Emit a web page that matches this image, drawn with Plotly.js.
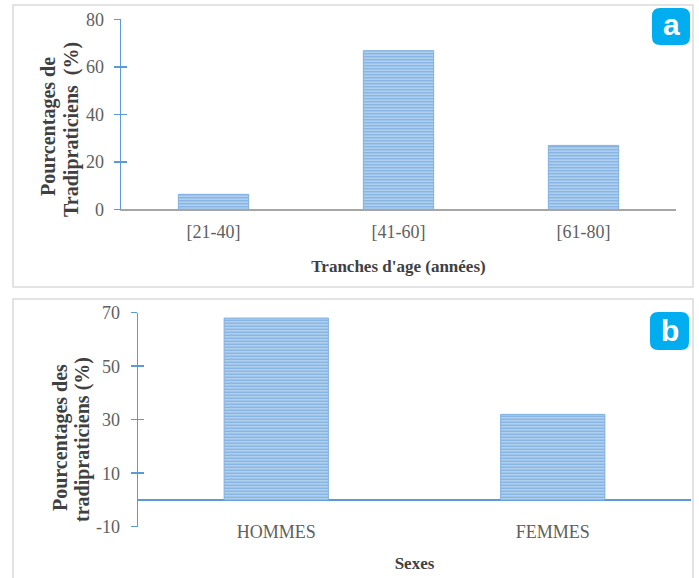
<!DOCTYPE html>
<html>
<head>
<meta charset="utf-8">
<script src="https://cdn.plot.ly/plotly-3.0.1.min.js"></script>
<style>html,body{margin:0;padding:0;background:#fff}#chart{width:699px;height:578px}</style>
</head>
<body>
<div id="chart"></div>
<script>
// Panel a data
const ageGroups = ['[21-40]', '[41-60]', '[61-80]'];
const agePercent = [6.3, 66.8, 26.9];
// Panel b data
const sexes = ['HOMMES', 'FEMMES'];
const sexPercent = [68, 32];
// Tick labels
const ageTicks = [0, 20, 40, 60, 80];
const sexTicks = [-10, 10, 30, 50, 70];
const sexTickText = ['-10', '10', '30', '50', '70'];

const W = 699, H = 578;
const px = v => v / W;
const py = v => 1 - v / H;

const serif = 'Liberation Serif, Times New Roman, serif';
const barMarker = {
  color: '#A7C8EA',
  line: {color: '#7FB0E2', width: 1},
  pattern: {shape: '-', fgcolor: '#79AADF', bgcolor: '#AECFEE', size: 3, solidity: 0.35}
};

const traces = [
  {type: 'bar', x: ageGroups, y: agePercent, xaxis: 'x', yaxis: 'y', width: 0.38, marker: barMarker},
  {type: 'bar', x: sexes, y: sexPercent, xaxis: 'x2', yaxis: 'y2', width: 0.377, marker: barMarker},
  {type: 'scatter', mode: 'none', x: ageGroups, y: agePercent, xaxis: 'x', yaxis: 'y3', showlegend: false},
  {type: 'scatter', mode: 'none', x: sexes, y: sexPercent, xaxis: 'x2', yaxis: 'y4', showlegend: false}
];

function roundRect(x0, y0, x1, y1, r) {
  const X = v => px(v).toFixed(5), Y = v => py(v).toFixed(5);
  return `M ${X(x0 + r)} ${Y(y0)} L ${X(x1 - r)} ${Y(y0)} Q ${X(x1)} ${Y(y0)} ${X(x1)} ${Y(y0 + r)} ` +
         `L ${X(x1)} ${Y(y1 - r)} Q ${X(x1)} ${Y(y1)} ${X(x1 - r)} ${Y(y1)} L ${X(x0 + r)} ${Y(y1)} ` +
         `Q ${X(x0)} ${Y(y1)} ${X(x0)} ${Y(y1 - r)} L ${X(x0)} ${Y(y0 + r)} Q ${X(x0)} ${Y(y0)} ${X(x0 + r)} ${Y(y0)} Z`;
}

const tickFont = {family: serif, size: 18, color: '#606060'};
const titleFont = {family: serif, size: 17, color: '#404040', weight: 'bold'};
const yTitleFont = {family: serif, size: 20, color: '#404040', weight: 'bold'};
const blue = '#5B9BD5';

function vTitle(text, xPix, yPix) {
  return {text: text, xref: 'paper', yref: 'paper', x: px(xPix), y: py(yPix),
          xanchor: 'center', yanchor: 'middle', textangle: -90, showarrow: false, font: yTitleFont};
}

const layout = {
  width: W, height: H,
  margin: {l: 0, r: 0, t: 0, b: 0},
  paper_bgcolor: '#fff', plot_bgcolor: 'rgba(0,0,0,0)',
  showlegend: false,
  font: {family: serif},
  xaxis: {
    domain: [px(121), px(676)], anchor: 'y', range: [-0.5, 2.5],
    showline: true, linecolor: '#A6A6A6', linewidth: 2, ticks: '', showgrid: false,
    tickfont: tickFont, ticklabelstandoff: 5,
    title: {text: "Tranches d'age (années)", font: titleFont, standoff: 19}
  },
  yaxis: {
    domain: [py(209.3), py(19.3)], anchor: 'x', range: [0, 80], tickvals: ageTicks,
    showline: true, linecolor: blue, linewidth: 1.5, showgrid: false, zeroline: false,
    ticks: 'outside', ticklen: 6, tickcolor: blue, tickwidth: 1.5,
    tickfont: tickFont, ticklabelstandoff: 6
  },
  yaxis3: {
    overlaying: 'y', anchor: 'x', range: [0, 80], tickvals: ageTicks, showticklabels: false,
    ticks: 'inside', ticklen: 6, tickcolor: blue, tickwidth: 1.5, showgrid: false, zeroline: false, showline: false
  },
  xaxis2: {
    domain: [px(138), px(691)], anchor: 'y2', range: [-0.5, 1.5],
    showline: false, ticks: '', showgrid: false,
    tickfont: tickFont, ticklabelstandoff: -8,
    title: {text: 'Sexes', font: titleFont, standoff: 16}
  },
  yaxis2: {
    domain: [py(526.7), py(312.7)], anchor: 'x2', range: [-10, 70], tickvals: sexTicks, ticktext: sexTickText,
    showline: true, linecolor: blue, linewidth: 1.5, showgrid: false,
    zeroline: true, zerolinecolor: blue, zerolinewidth: 1.5,
    ticks: 'outside', ticklen: 6, tickcolor: blue, tickwidth: 1.5,
    tickfont: tickFont, ticklabelstandoff: 7
  },
  yaxis4: {
    overlaying: 'y2', anchor: 'x2', range: [-10, 70], tickvals: sexTicks, showticklabels: false,
    ticks: 'inside', ticklen: 6, tickcolor: blue, tickwidth: 1.5, showgrid: false, zeroline: false, showline: false
  },
  shapes: [
    {type: 'rect', xref: 'paper', yref: 'paper', x0: px(13), x1: px(693), y0: py(287), y1: py(5),
     line: {color: '#DADADA', width: 1.5}, layer: 'below'},
    {type: 'rect', xref: 'paper', yref: 'paper', x0: px(13), x1: px(693), y0: py(585), y1: py(299),
     line: {color: '#DADADA', width: 1.5}, layer: 'below'},
    {type: 'path', xref: 'paper', yref: 'paper', path: roundRect(652, 8, 690, 45, 8),
     fillcolor: '#00AEEF', line: {width: 0}},
    {type: 'path', xref: 'paper', yref: 'paper', path: roundRect(650, 312, 689, 350, 8),
     fillcolor: '#00AEEF', line: {width: 0}}
  ],
  annotations: [
    {text: 'a', xref: 'paper', yref: 'paper', x: px(671), y: py(25), xanchor: 'center', yanchor: 'middle',
     showarrow: false, font: {family: 'Arial, Liberation Sans, sans-serif', size: 30, color: '#fff', weight: 'bold'}},
    {text: 'b', xref: 'paper', yref: 'paper', x: px(669.5), y: py(330), xanchor: 'center', yanchor: 'middle',
     showarrow: false, font: {family: 'Arial, Liberation Sans, sans-serif', size: 30, color: '#fff', weight: 'bold'}},
    vTitle('Pourcentages de', 48, 127),
    vTitle('Tradipraticiens  (%)', 71, 130),
    vTitle('Pourcentages des', 60, 438),
    vTitle('tradipraticiens (%)', 82, 440)
  ]
};

Plotly.newPlot('chart', traces, layout, {displayModeBar: false, staticPlot: true});
</script>
</body>
</html>
